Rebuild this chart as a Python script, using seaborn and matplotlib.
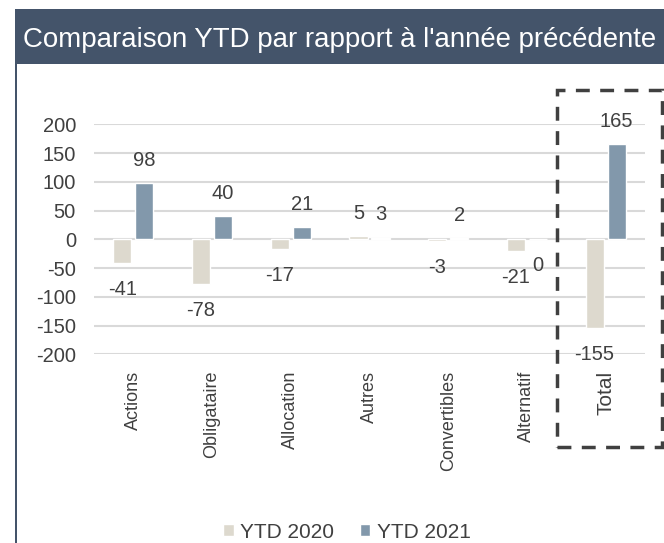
import seaborn as sns
import pandas as pd
import matplotlib.pyplot as plt
from matplotlib.patches import Rectangle

categories = ['Actions', 'Obligataire', 'Allocation', 'Autres', 'Convertibles', 'Alternatif', 'Total']
ytd_2020 = [-41, -78, -17, 5, -3, -21, -155]
ytd_2021 = [98, 40, 21, 3, 2, 0, 165]
series = ['YTD 2020', 'YTD 2021']
yticks = [-200, -150, -100, -50, 0, 50, 100, 150, 200]

df = pd.DataFrame({
    'cat': categories * 2,
    'val': ytd_2020 + ytd_2021,
    'year': [series[0]] * len(categories) + [series[1]] * len(categories),
})

sns.set_style('white')
plt.rcParams['font.family'] = ['Liberation Sans', 'DejaVu Sans']
txt = '#404040'
W, H = 664, 543

fig = plt.figure(figsize=(W / 100, H / 100), dpi=100)
ax = fig.add_axes([94 / W, 1 - 354.3 / H, 551 / W, 230 / H])

sns.barplot(data=df, x='cat', y='val', hue='year', palette=['#ddd9ce', '#8298ab'],
            saturation=1, width=0.56, gap=0.18, ax=ax)

ax.set_ylim(-200, 200)
ax.set_xlim(-0.5, len(categories) - 0.5)
ax.set_yticks(yticks)
ax.set_yticklabels([str(t) for t in yticks], fontsize=14.5, color=txt)
ax.set_xticks(range(len(categories)))
ax.set_xticklabels(categories, rotation=90, fontsize=13, color=txt)
ax.get_xticklabels()[-1].set_fontsize(15)  # total label is bigger
ax.tick_params(axis='y', length=0, pad=13)
ax.tick_params(axis='x', length=0, pad=12)
ax.set_xlabel('')
ax.set_ylabel('')
ax.grid(axis='y', color='#d9d9d9', linewidth=1.5)
ax.set_axisbelow(True)
for s in ax.spines.values():
    s.set_visible(False)

# data labels
for cont, vals in zip(ax.containers, [ytd_2020, ytd_2021]):
    for bar, v in zip(cont, vals):
        xc = bar.get_x() + bar.get_width() / 2
        off = 16.5 if v > 0 else -19
        ax.annotate(str(v), (xc, v), xytext=(0, off), textcoords='offset points',
                    ha='center', va='center', fontsize=14.5, color=txt, annotation_clip=False)

sns.move_legend(ax, 'center', bbox_to_anchor=(347 / W, 1 - 532 / H), bbox_transform=fig.transFigure,
                ncol=2, frameon=False, title=None, fontsize=15, handlelength=0.5, handleheight=0.5,
                handletextpad=0.3, columnspacing=1.25)
for t in ax.get_legend().get_texts():
    t.set_color(txt)

# header band and left border
fig.patches.append(Rectangle((15 / W, 1 - 64 / H), (W - 15) / W, 55 / H, transform=fig.transFigure,
                             facecolor='#44546a', edgecolor='none', zorder=0))
fig.patches.append(Rectangle((15 / W, 0), 2 / W, 1 - 64 / H, transform=fig.transFigure,
                             facecolor='#44546a', edgecolor='none', zorder=0))
fig.text(23 / W, 1 - 47 / H, "Comparaison YTD par rapport à l'année précédente", color='white',
         fontsize=19.9, ha='left', va='baseline')

# dashed box around total
fig.patches.append(Rectangle((557 / W, 1 - 447 / H), 105 / W, 357 / H, transform=fig.transFigure,
                             facecolor='none', edgecolor='#404040', linewidth=2.5,
                             linestyle=(0, (4, 3)), zorder=5))

fig.savefig('out.png', dpi=100)
